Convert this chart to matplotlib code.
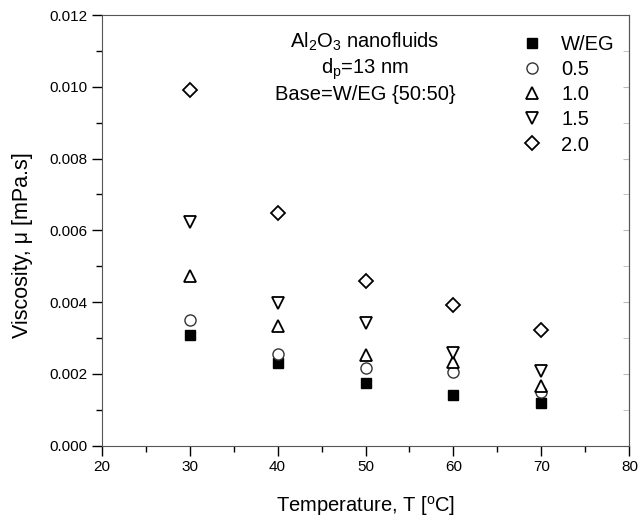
import matplotlib
matplotlib.use("Agg")
import matplotlib.pyplot as plt

plt.rcParams['font.family'] = ['Liberation Sans', 'DejaVu Sans']
plt.rcParams['mathtext.fontset'] = 'custom'
plt.rcParams['mathtext.rm'] = 'Liberation Sans'
plt.rcParams['mathtext.it'] = 'Liberation Sans:italic'

# temperature (C)
temp = [30, 40, 50, 60, 70]

# viscosity for base fluid and each concentration
visc_weg = [0.00307, 0.00231, 0.00175, 0.00142, 0.00119]
visc_05 = [0.00349, 0.00256, 0.00216, 0.00204, 0.00149]
visc_10 = [0.00474, 0.00333, 0.00254, 0.00232, 0.00167]
visc_15 = [0.00622, 0.00398, 0.00341, 0.00257, 0.00207]
visc_20 = [0.00990, 0.00649, 0.00459, 0.00391, 0.00321]

labels = ['W/EG', '0.5', '1.0', '1.5', '2.0']

fig = plt.figure(figsize=(6.39, 5.20), dpi=100)
ax = fig.add_axes([0.159, 0.143, 0.826, 0.828])

ax.plot(temp, visc_weg, 's', ms=7, mfc='black', mec='black', ls='none', label=labels[0])
ax.plot(temp, visc_05, 'o', ms=8, mfc='white', mec='#333333', mew=1.0, ls='none', label=labels[1])
ax.plot(temp, visc_10, '^', ms=9, mfc='white', mec='black', mew=1.3, ls='none', label=labels[2])
ax.plot(temp, visc_15, 'v', ms=9, mfc='white', mec='black', mew=1.3, ls='none', label=labels[3])
ax.plot(temp, visc_20, 'D', ms=7.5, mfc='white', mec='black', mew=1.3, ls='none', label=labels[4])

ax.set_xlim(20, 80)
ax.set_ylim(0, 0.012)
ax.set_xticks([20, 30, 40, 50, 60, 70, 80])
ax.set_xticks([25, 35, 45, 55, 65, 75], minor=True)
ax.set_yticks([0, 0.002, 0.004, 0.006, 0.008, 0.010, 0.012])
ax.set_yticks([0.001, 0.003, 0.005, 0.007, 0.009, 0.011], minor=True)
ax.yaxis.set_major_formatter(matplotlib.ticker.FormatStrFormatter('%.3f'))

ax.tick_params(axis='both', which='major', direction='out', length=7, width=1, labelsize=11)
ax.tick_params(axis='both', which='minor', direction='out', length=4, width=1)
# right side ticks point inward, faint
ax2 = ax.secondary_yaxis('right')
ax2.set_yticks([0, 0.002, 0.004, 0.006, 0.008, 0.010, 0.012])
ax2.set_yticks([0.001, 0.003, 0.005, 0.007, 0.009, 0.011], minor=True)
ax2.tick_params(which='both', direction='in', length=4, color='#bbbbbb', labelright=False)
ax2.spines['right'].set_color('#555555')
for sp in ax.spines.values():
    sp.set_color('#555555')

ax.set_xlabel('Temperature, T [$^{\\mathrm{o}}$C]', fontsize=14.5, labelpad=14)
ax.set_ylabel('Viscosity, \u03bc [mPa.s]', fontsize=15.5)
ax.yaxis.set_label_coords(-0.13, 0.466)

ax.text(0.499, 0.879, 'Al$_2$O$_3$ nanofluids\nd$_\\mathrm{p}$=13 nm\nBase=W/EG {50:50}',
        transform=ax.transAxes, ha='center', va='center', fontsize=14.5, linespacing=1.2)

ax.legend(loc='upper left', bbox_to_anchor=(0.762, 0.995), frameon=False, fontsize=14.5,
          handlelength=1.0, handletextpad=0.95, labelspacing=0.3)

fig.savefig('out.png', dpi=100)
